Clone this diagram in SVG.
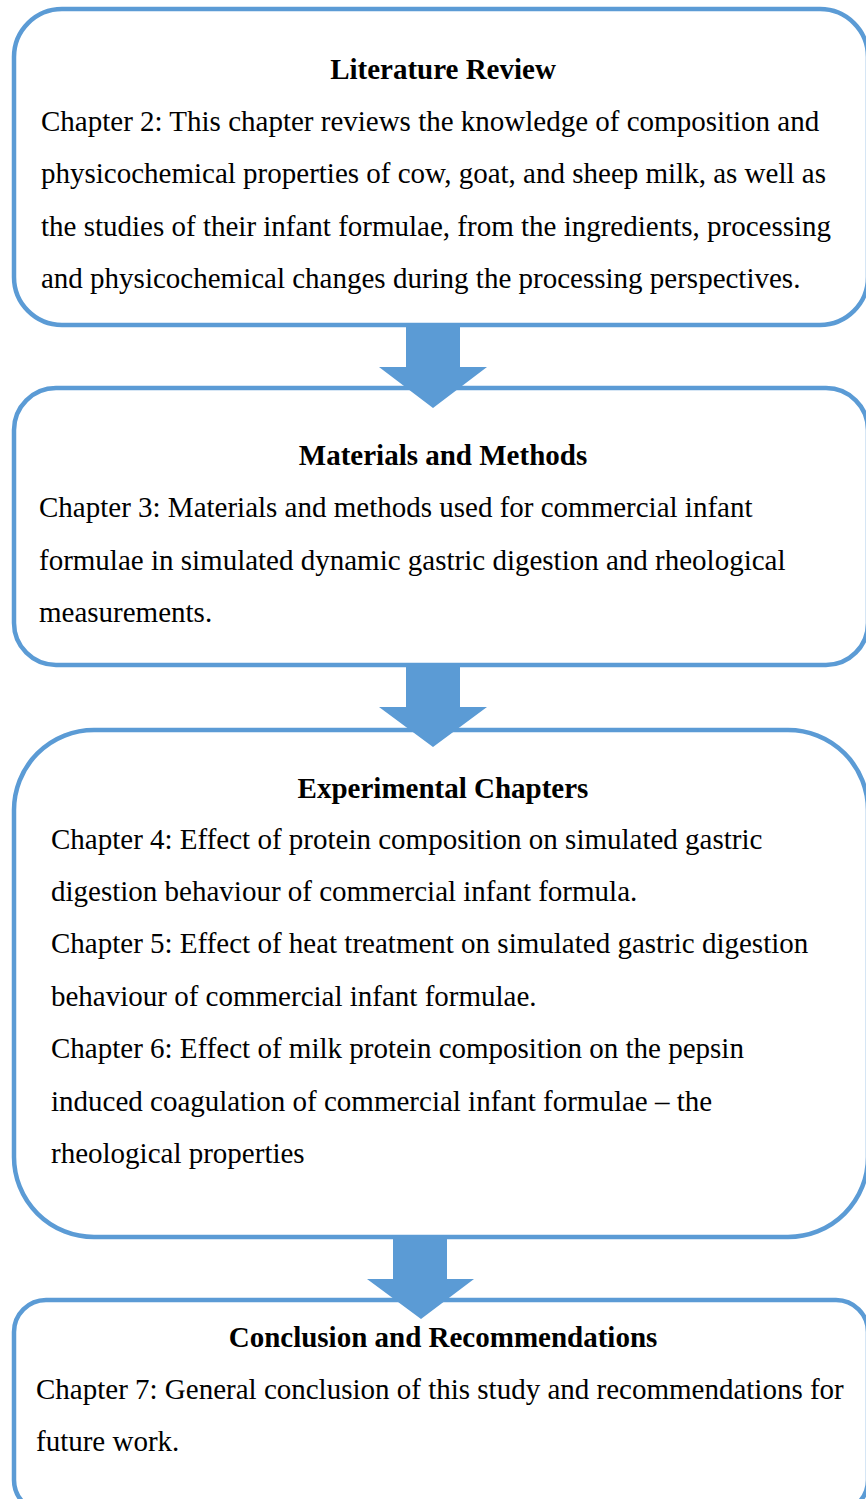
<svg xmlns="http://www.w3.org/2000/svg" width="866" height="1499" viewBox="0 0 866 1499">
<style>
.box{fill:#ffffff;stroke:#5B9BD5;stroke-width:4.5}
.arrow{fill:#5B9BD5;stroke:none}
.t{font-family:"Liberation Serif","Times New Roman",serif;font-size:29px;fill:#000000}
.h{font-family:"Liberation Serif","Times New Roman",serif;font-size:29px;font-weight:bold;fill:#000000;text-anchor:middle}
</style>
<rect width="866" height="1499" fill="#ffffff"/>
<g id="node-literature">
<rect class="box" x="14" y="9" width="854" height="316" rx="48" ry="48"/>
<text class="h" x="443" y="79">Literature Review</text>
<text class="t" x="41" y="131">Chapter 2: This chapter reviews the knowledge of composition and</text>
<text class="t" x="41" y="183">physicochemical properties of cow, goat, and sheep milk, as well as</text>
<text class="t" x="41" y="236">the studies of their infant formulae, from the ingredients, processing</text>
<text class="t" x="41" y="288">and physicochemical changes during the processing perspectives.</text>
</g>
<g id="node-materials">
<rect class="box" x="14" y="388" width="854" height="277" rx="42" ry="42"/>
<text class="h" x="443" y="465">Materials and Methods</text>
<text class="t" x="39" y="517">Chapter 3: Materials and methods used for commercial infant</text>
<text class="t" x="39" y="570">formulae in simulated dynamic gastric digestion and rheological</text>
<text class="t" x="39" y="622">measurements.</text>
</g>
<g id="node-experimental">
<rect class="box" x="14" y="730" width="854" height="507" rx="80" ry="80"/>
<text class="h" x="443" y="798">Experimental Chapters</text>
<text class="t" x="51" y="849">Chapter 4: Effect of protein composition on simulated gastric</text>
<text class="t" x="51" y="901">digestion behaviour of commercial infant formula.</text>
<text class="t" x="51" y="953">Chapter 5: Effect of heat treatment on simulated gastric digestion</text>
<text class="t" x="51" y="1006">behaviour of commercial infant formulae.</text>
<text class="t" x="51" y="1058">Chapter 6: Effect of milk protein composition on the pepsin</text>
<text class="t" x="51" y="1111">induced coagulation of commercial infant formulae – the</text>
<text class="t" x="51" y="1163">rheological properties</text>
</g>
<g id="node-conclusion">
<rect class="box" x="14" y="1300" width="854" height="212" rx="32" ry="32"/>
<text class="h" x="443" y="1347">Conclusion and Recommendations</text>
<text class="t" x="36" y="1399">Chapter 7: General conclusion of this study and recommendations for</text>
<text class="t" x="36" y="1451">future work.</text>
</g>
<g id="connectors">
<polygon class="arrow" points="406,325 460,325 460,367 487,367 433,408 379,367 406,367"/>
<polygon class="arrow" points="406,665 460,665 460,707 487,707 433,747 379,707 406,707"/>
<polygon class="arrow" points="393,1237 447,1237 447,1279 474,1279 421,1319 367,1279 393,1279"/>
</g>
</svg>
